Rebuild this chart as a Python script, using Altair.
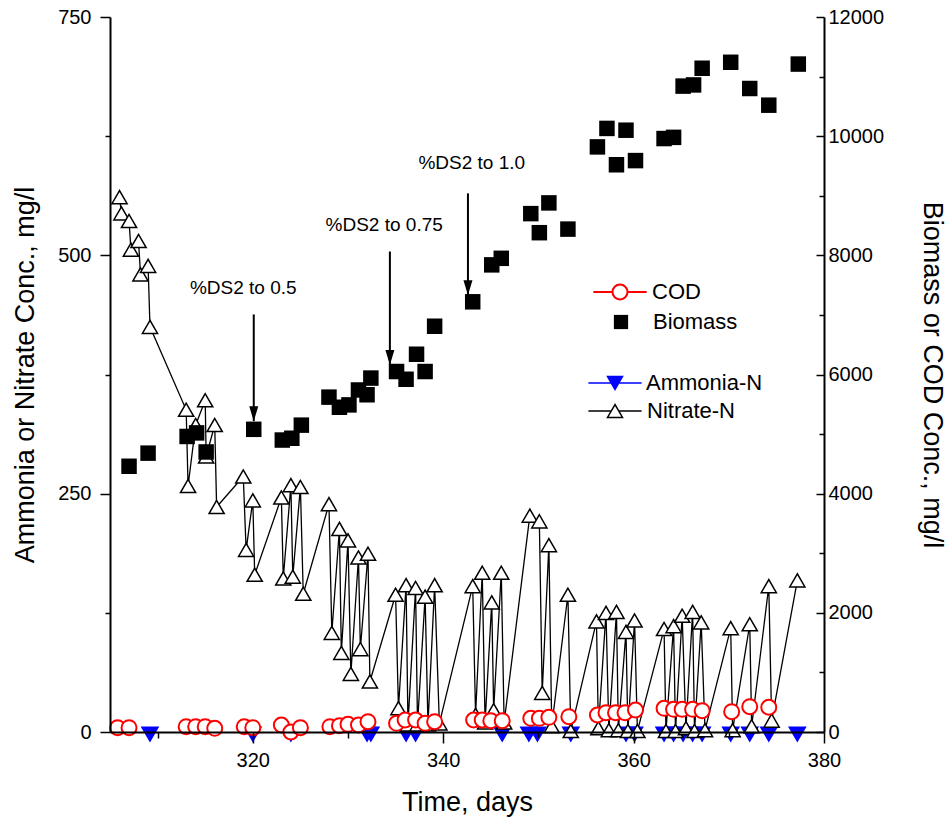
import altair as alt
import pandas as pd

# ---------------- data ----------------
nitrate_day = [306.0, 306.2, 307.0, 307.2, 308.0, 308.2, 309.0, 309.2, 313.0, 313.2,
               314.0, 315.0, 315.1, 316.0, 316.2, 319.0, 319.3, 320.0, 320.2, 323.0,
               323.2, 324.0, 324.2, 325.0, 325.3, 328.0, 328.3, 329.1, 329.3, 330.0,
               330.3, 331.1, 331.3, 332.1, 332.3, 335.0, 335.3, 336.1, 336.3, 337.1,
               337.3, 338.1, 338.4, 339.1, 339.6, 343.1, 343.4, 344.1, 344.4, 345.1,
               345.3, 346.1, 346.4, 349.1, 350.1, 350.4, 351.1, 351.4, 353.1, 353.4,
               356.1, 356.3, 357.1, 357.4, 358.2, 358.4, 359.2, 359.4, 360.1, 360.4,
               363.2, 363.4, 364.2, 364.4, 365.1, 365.5, 366.2, 366.4, 367.1, 367.5,
               370.2, 370.4, 372.2, 372.4, 374.2, 374.5, 377.2]
nitrate_val = [561, 544, 536, 506, 515, 480, 489, 425, 338, 258,
               322, 348, 289, 322, 236, 268, 191, 243, 165, 246,
               161, 259, 163, 257, 145, 239, 104, 213, 83, 201,
               61, 183, 87, 187, 53, 144, 25, 154, 8, 151,
               8, 142, 8, 154, 9, 153, 18, 167, 10, 136,
               23, 167, 10, 227, 221, 41, 196, 6, 144, 1,
               116, 4, 125, 2, 126, 2, 105, 1, 117, 1,
               108, 1, 111, 1, 122, 4, 126, 1, 115, 2,
               109, 2, 113, 6, 153, 12, 159]

ammonia_day = [309.2, 320.0, 324.0, 332.0, 332.4, 336.1, 337.1, 346.2, 349.0, 349.9,
               353.4, 359.2, 360.1, 363.2, 364.2, 365.2, 366.2, 367.2, 370.2, 372.2,
               374.2, 377.2]
ammonia_val = [0, 0, 0, 0, 0, 0, 0, 0, 0, 0,
               0, 0, 0, 0, 0, 0, 0, 0, 0, 0,
               0, 0]

cod_day = [305.8, 307.0, 313.0, 314.0, 315.0, 316.0, 319.1, 320.0, 323.0, 324.0,
           325.0, 328.1, 329.1, 330.0, 331.1, 332.1, 335.1, 336.0, 337.1, 338.1,
           339.1, 343.2, 344.1, 345.0, 346.2, 349.2, 350.1, 351.1, 353.2, 356.2,
           357.1, 358.1, 359.1, 360.2, 363.2, 364.2, 365.1, 366.2, 367.2, 370.3,
           372.2, 374.2]
cod_val = [72, 72, 89, 89, 89, 62, 89, 72, 117, 0,
           72, 89, 106, 129, 117, 173, 146, 201, 201, 146,
           173, 201, 201, 190, 190, 230, 230, 247, 257, 285,
           324, 324, 324, 369, 398, 381, 381, 381, 358, 341,
           425, 415]

biomass_day = [307.0, 309.0, 313.1, 314.1, 315.1, 320.1, 323.1, 324.1, 325.1, 328.0,
               329.1, 330.1, 331.1, 332.0, 332.4, 335.1, 336.1, 337.2, 338.1, 339.1,
               343.1, 345.1, 346.1, 349.2, 350.1, 351.1, 353.1, 356.2, 357.2, 358.2,
               359.2, 360.2, 363.2, 364.2, 365.2, 366.3, 367.2, 370.2, 372.2, 374.2,
               377.3]
biomass_val = [4460, 4680, 4960, 5020, 4700, 5080, 4900, 4930, 5150, 5620,
               5450, 5490, 5740, 5660, 5940, 6050, 5920, 6340, 6050, 6810,
               7220, 7840, 7950, 8700, 8380, 8880, 8440, 9820, 10130, 9520,
               10100, 9590, 9960, 9980, 10840, 10860, 11140, 11240, 10800, 10520,
               11210]

note_day = [320.1, 334.4, 342.6]
note_top = [438, 504, 565]
note_tip = [326, 385, 458]
note_text = ["%DS2 to 0.5", "%DS2 to 0.75", "%DS2 to 1.0"]
note_text_day = [319.0, 333.8, 343.0]
note_text_val = [466, 532, 597]

x_ticks = [310, 320, 330, 340, 350, 360, 370, 380]
left_ticks = [0, 125, 250, 375, 500, 625, 750]
right_ticks = [0, 1000, 2000, 3000, 4000, 5000, 6000, 7000, 8000, 9000, 10000, 11000, 12000]
right_labels = [0, 2000, 4000, 6000, 8000, 10000, 12000]

# ---------------- tables ----------------
nit_df = pd.DataFrame({"day": nitrate_day, "val": nitrate_val, "series": "Nitrate-N"})
amm_df = pd.DataFrame({"day": ammonia_day, "val": ammonia_val, "series": "Ammonia-N"})
cod_df = pd.DataFrame({"day": cod_day, "val": cod_val, "series": "COD"})
bio_df = pd.DataFrame({"day": biomass_day, "val": biomass_val, "series": "Biomass"})
note_df = pd.DataFrame({"day": note_day, "top": note_top, "tip": note_tip,
                        "tday": note_text_day, "tval": note_text_val, "label": note_text})

W, H = 714, 715
FONT = "Liberation Sans"

COD_PATH = "M-3.55,0L-1,0M1,0L3.55,0M1,0A1,1,0,1,1,-1,0A1,1,0,1,1,1,0Z"
SQ_PATH = "M-0.95,-0.95L0.95,-0.95L0.95,0.95L-0.95,0.95Z"
AMM_PATH = "M-3.55,0L-0.5,0M0.5,0L3.55,0M-1,-0.866L1,-0.866L0,0.866Z"
NIT_PATH = "M-3.55,0L-0.5,0M0.5,0L3.55,0M0,-0.866L-1,0.866L1,0.866Z"
ARROW_PATH = "M0,0L-0.6,-2L0.6,-2Z"

# ---------------- scales & axes ----------------
xs = alt.Scale(domain=[305, 380], nice=False, zero=False)
yl = alt.Scale(domain=[0, 750], nice=False)
yr = alt.Scale(domain=[0, 12000], nice=False)

x_axis = alt.Axis(values=x_ticks, format="d",
                  labelExpr="datum.value % 20 === 0 ? datum.label : ''",
                  title="Time, days", grid=False,
                  tickSize={"condition": {"test": "datum.value % 20 !== 0", "value": 6}, "value": 11},
                  tickWidth=1.5, domainWidth=2, labelFontSize=20, titleFontSize=27,
                  labelPadding=7, titlePadding=19, labelFlush=False, labelOverlap=False,
                  zindex=1)
X = alt.X("day:Q", scale=xs, axis=x_axis)

yl_axis = alt.Axis(orient="left", values=left_ticks, format="d",
                   labelExpr="datum.value % 250 === 0 ? datum.label : ''",
                   title="Ammonia or Nitrate Conc., mg/l", grid=False,
                   tickSize={"condition": {"test": "datum.value % 250 !== 0", "value": 5}, "value": 10},
                   tickWidth=1.5, domainWidth=2, labelFontSize=20, titleFontSize=27,
                   labelPadding=9, titlePadding=18, labelOverlap=False, zindex=1)

yr_axis = alt.Axis(orient="right", values=right_labels, format="d", ticks=False, tickSize=0,
                   title="Biomass or COD Conc., mg/l", grid=False,
                   domainWidth=2, labelFontSize=20, titleFontSize=27,
                   labelPadding=4, titlePadding=34, labelOverlap=False, zindex=1)

tick_axis = alt.Axis(orient="left", offset=-W, values=right_ticks, labels=False, domain=False,
                     title=None, grid=False,
                     tickSize={"condition": {"test": "datum.value % 2000 !== 0", "value": 5}, "value": 8},
                     tickWidth=1.5, zindex=1)


def legend_for(path, lx, ly, fill_c, stroke_c, stroke_w, label_off):
    return alt.Legend(
        title=None, orient="none", legendX=lx, legendY=ly, direction="vertical",
        labelFontSize=22, labelFont=FONT, labelColor="black", labelOffset=label_off,
        symbolType=path, symbolSize=225, symbolFillColor=fill_c,
        symbolStrokeColor=stroke_c, symbolStrokeWidth=stroke_w, symbolOpacity=1,
        padding=0,
    )


leg_cod = legend_for(COD_PATH, 499, 264, "white", "#ff0000", 2, 21)
leg_bio = legend_for(SQ_PATH, 500, 294, "black", "black", 0, 21)
leg_amm = legend_for(AMM_PATH, 494, 355, "#0000ff", "#0000ff", 1.5, 20)
leg_nit = legend_for(NIT_PATH, 494, 383, "white", "black", 1.5, 21)

YL = alt.Y("val:Q", scale=yl, axis=yl_axis)
YR = alt.Y("val:Q", scale=yr, axis=yr_axis)

# ---------------- left (ammonia / nitrate) ----------------
amm = alt.Chart(amm_df).mark_point(shape="triangle-down", filled=True, size=350,
                                   opacity=1, yOffset=2.5).encode(
    x=X, y=YL,
    color=alt.Color("series:N", scale=alt.Scale(domain=["Ammonia-N"], range=["#0000ff"]),
                    legend=leg_amm))

nit_line = alt.Chart(nit_df).mark_line(color="black", strokeWidth=1.3).encode(x=X, y=YL)

nit_pts = alt.Chart(nit_df).mark_point(shape="triangle-up", filled=False, fill="white",
                                       size=230, strokeWidth=1.5, opacity=1).encode(
    x=X, y=YL,
    color=alt.Color("series:N", scale=alt.Scale(domain=["Nitrate-N"], range=["black"]),
                    legend=leg_nit))

arrows = alt.Chart(note_df).mark_rule(color="black", strokeWidth=2).encode(
    x=X, y=alt.Y("top:Q", scale=yl, axis=yl_axis), y2="tip:Q")
heads = alt.Chart(note_df).mark_point(shape=ARROW_PATH, filled=True, color="black",
                                      size=225, opacity=1).encode(
    x=X, y=alt.Y("tip:Q", scale=yl, axis=yl_axis))
notes = alt.Chart(note_df).mark_text(font=FONT, fontSize=19, color="black",
                                     align="center", baseline="middle").encode(
    x=alt.X("tday:Q", scale=xs, axis=x_axis),
    y=alt.Y("tval:Q", scale=yl, axis=yl_axis), text="label:N")

left = alt.layer(amm, nit_line, nit_pts, arrows, heads, notes).resolve_scale(color="independent")

# ---------------- right (biomass / COD) ----------------
bio = alt.Chart(bio_df).mark_point(shape="square", filled=True, size=240, opacity=1).encode(
    x=X, y=YR,
    color=alt.Color("series:N", scale=alt.Scale(domain=["Biomass"], range=["black"]),
                    legend=leg_bio))
cod = alt.Chart(cod_df).mark_point(shape="circle", filled=False, fill="white", size=225,
                                   strokeWidth=2, opacity=1).encode(
    x=X, y=YR,
    color=alt.Color("series:N", scale=alt.Scale(domain=["COD"], range=["#ff0000"]),
                    legend=leg_cod))
right = alt.layer(bio, cod).resolve_scale(color="independent")

# inward ticks of the right axis
tick_layer = alt.Chart(bio_df).mark_point(opacity=0).encode(
    x=X, y=alt.Y("val:Q", scale=yr, axis=tick_axis))

chart = alt.layer(left, right, tick_layer).resolve_scale(
    y="independent", color="independent"
).properties(
    width=W, height=H,
    autosize=alt.AutoSizeParams(type="none"),
    padding={"left": 110, "top": 17, "right": 127, "bottom": 94},
    background="white",
).configure_axis(
    labelFont=FONT, titleFont=FONT, labelColor="black", titleColor="black",
    domainColor="black", tickColor="black", titleFontWeight="normal",
).configure_view(stroke="transparent")

chart.save("out.html", embed_options={"renderer": "svg", "actions": False})
